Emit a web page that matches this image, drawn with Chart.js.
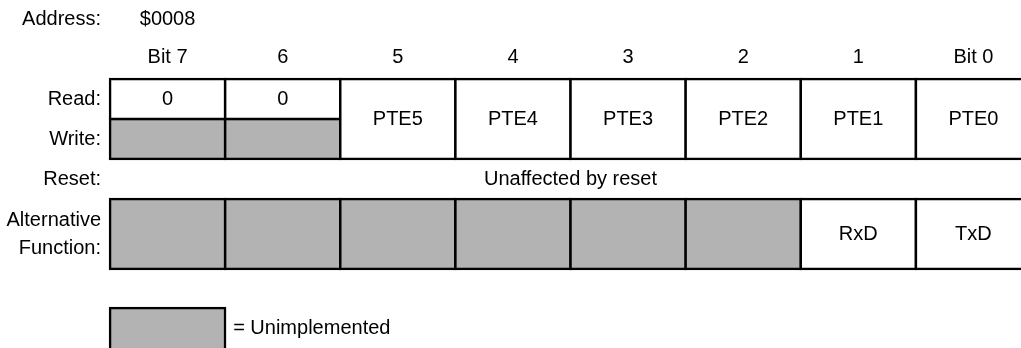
<!DOCTYPE html>
<html>
<head>
<meta charset="utf-8">
<script src="https://cdn.jsdelivr.net/npm/chart.js@4"></script>
<style>
  html, body { margin: 0; padding: 0; background: #fff; overflow: hidden; }
  #wrap { width: 1040px; height: 348px; }
</style>
</head>
<body>
<div id="wrap"><canvas id="reg" width="1040" height="348"></canvas></div>
<script>
// register layout, rows in "row units" on the y scale
var bitLabels = ['Bit 7', '6', '5', '4', '3', '2', '1', 'Bit 0'];
var rowLabels = ['Read:', 'Write:', 'Reset:', ['Alternative', 'Function:']];
var rowTicks = [0.5, 1.5, 2.5, 3.875];

var readSpan = [[0, 1], [0, 1], [0, 2], [0, 2], [0, 2], [0, 2], [0, 2], [0, 2]];
var readText = ['0', '0', 'PTE5', 'PTE4', 'PTE3', 'PTE2', 'PTE1', 'PTE0'];
var writeSpan = [[1, 2], [1, 2], null, null, null, null, null, null];
var resetText = 'Unaffected by reset';
var altSpan = [[3, 4.75], [3, 4.75], [3, 4.75], [3, 4.75], [3, 4.75], [3, 4.75], [3, 4.75], [3, 4.75]];
var altText = ['', '', '', '', '', '', 'RxD', 'TxD'];
var altUsed = [false, false, false, false, false, false, true, true];
var keySpan = [[5.725, 7], null, null, null, null, null, null, null];
var keyText = '= Unimplemented';
var addressLabel = 'Address:';
var addressValue = '$0008';

var GRAY = '#b3b3b3';
var FONT = { family: '"Liberation Sans", Arial, sans-serif', size: 20 };

var cellStyle = {
    barPercentage: 1,
    categoryPercentage: 1,
    grouped: false,
    borderWidth: 2.5,
    inflateAmount: 1.25,
    borderColor: '#000',
    borderSkipped: false,
    clip: false
};

function ds(name, data, bg) {
    return Object.assign({ label: name, data: data, backgroundColor: bg }, cellStyle);
}

var textPlugin = {
    id: 'cellText',
    afterDatasetsDraw: function(chart) {
        var ctx = chart.ctx;
        var xs = chart.scales.x, ys = chart.scales.y;
        ctx.save();
        ctx.font = FONT.size + 'px ' + FONT.family;
        ctx.fillStyle = '#000';
        ctx.textBaseline = 'middle';
        ctx.textAlign = 'center';
        var texts = [readText, null, altText];
        [0, 2].forEach(function(d) {
            chart.getDatasetMeta(d).data.forEach(function(el, i) {
                if (!texts[d][i]) return;
                var c = el.getCenterPoint();
                ctx.fillText(texts[d][i], c.x, c.y);
            });
        });
        ctx.fillText(resetText, (chart.chartArea.left + chart.chartArea.right) / 2, ys.getPixelForValue(2.5));
        // address line
        ctx.textAlign = 'right';
        ctx.fillText(addressLabel, ys.right - 9, 19);
        ctx.textAlign = 'center';
        ctx.fillText(addressValue, xs.getPixelForValue(0), 19);
        // key
        var key = chart.getDatasetMeta(3).data[0];
        ctx.textAlign = 'left';
        ctx.fillText(keyText, key.x + key.width / 2 + 8, ys.getPixelForValue(6.225));
        ctx.restore();
    }
};

new Chart(document.getElementById('reg'), {
    type: 'bar',
    data: {
        labels: bitLabels,
        datasets: [
            ds('Read', readSpan, '#fff'),
            ds('Write', writeSpan, GRAY),
            ds('Alternative Function', altSpan, altUsed.map(function(u) { return u ? '#fff' : GRAY; })),
            ds('Unimplemented', keySpan, GRAY)
        ]
    },
    options: {
        responsive: false,
        animation: false,
        events: [],
        layout: { padding: { left: 0, right: 9, top: 0, bottom: 0 } },
        plugins: { legend: { display: false }, tooltip: { enabled: false }, title: { display: false } },
        scales: {
            x: {
                type: 'category',
                position: 'top',
                grid: { display: false, drawTicks: false },
                border: { display: false },
                ticks: { color: '#000', font: FONT, padding: 10, maxRotation: 0, autoSkip: false },
                afterFit: function(s) { s.height = 79; s.paddingLeft = 0; s.paddingRight = 0; }
            },
            y: {
                type: 'linear',
                reverse: true,
                min: 0,
                max: 6.725,
                grid: { display: false, drawTicks: false },
                border: { display: false },
                ticks: {
                    color: '#000',
                    font: Object.assign({ lineHeight: 1.4 }, FONT),
                    padding: 9,
                    autoSkip: false,
                    callback: function(v, i) { return rowLabels[i]; }
                },
                afterBuildTicks: function(s) {
                    s.ticks = rowTicks.map(function(v) { return { value: v }; });
                },
                afterFit: function(s) { s.width = 110; s.paddingTop = 0; s.paddingBottom = 0; }
            }
        }
    },
    plugins: [textPlugin]
});
</script>
</body>
</html>
